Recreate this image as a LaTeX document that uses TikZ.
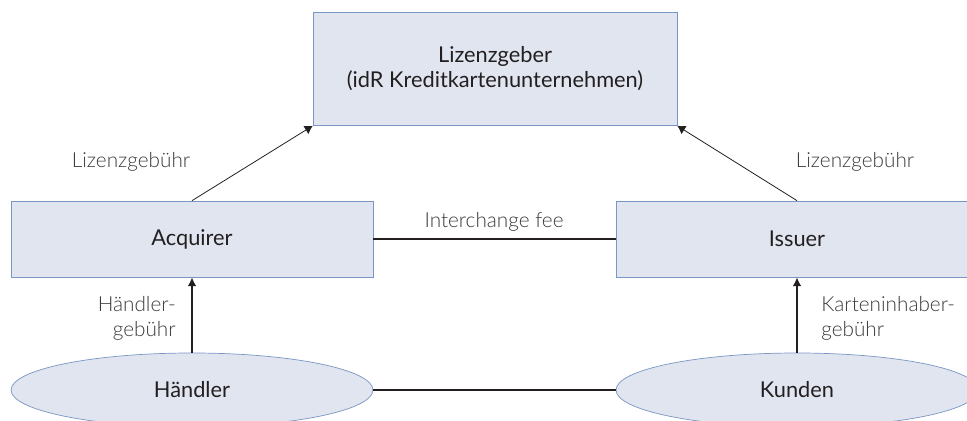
\documentclass[tikz,border=0pt]{standalone}
\usepackage{fontspec}
\setmainfont{Lato}
\newfontfamily\lightfont{Lato Light}
\usetikzlibrary{shapes.geometric, arrows.meta, shapes}
\definecolor{boxfill}{RGB}{224,229,240}
\definecolor{boxline}{RGB}{122,150,196}
\definecolor{ink}{RGB}{35,31,32}
\definecolor{labelgray}{RGB}{58,58,58}
\tikzstyle{party} = [rectangle, minimum width=7.24cm, minimum height=1.52cm, text centered, draw=boxline, fill=boxfill, text=ink, font=\fontsize{12.4}{14.2}\selectfont]
\tikzstyle{enduser} = [ellipse, minimum width=7.24cm, minimum height=1.48cm, text centered, draw=boxline, fill=boxfill, text=ink, font=\fontsize{12.4}{14.2}\selectfont]
\tikzstyle{fee} = [text=labelgray, inner sep=0pt, font=\lightfont\fontsize{11.8}{14.2}\selectfont]
\tikzstyle{arrow} = [line width=1pt, -{Latex[length=5pt, width=5pt]}, draw=ink]
\tikzstyle{thinarrow} = [line width=0.45pt, -{Latex[length=4.5pt, width=5.5pt]}, draw=ink]

\begin{document}
\begin{tikzpicture}[x=0.02cm, y=0.02cm, yscale=-1]
\useasboundingbox (0,0) rectangle (967,421);

\node at (495, 69) (giver) [party, minimum width=7.28cm, minimum height=2.26cm, align=center] {Lizenzgeber\\(idR Kreditkartenunternehmen)};
\node at (192, 239) (acq) [party] {Acquirer};
\node at (797, 239) (iss) [party] {Issuer};
\node at (192, 390) (haendler) [enduser] {Händler};
\node at (797, 390) (kunden) [enduser] {Kunden};

\draw[thinarrow] (acq.north) -- (giver.south west);
\draw[thinarrow] (iss.north) -- (giver.south east);
\draw[line width=1pt, ink] (acq) -- (iss);
\draw[line width=1pt, ink] (haendler) -- (kunden);
\draw[arrow] (haendler) -- (acq);
\draw[arrow] (kunden) -- (iss);

\node at (131, 162) (lgleft) [fee] {Lizenzgebühr};
\node at (855, 162) (lgright) [fee] {Lizenzgebühr};
\node at (494, 222) (interchange) [fee] {Interchange fee};
\node at (176, 318) (hgeb) [fee, anchor=east, align=right] {Händler-\\gebühr};
\node at (821, 318) (kgeb) [fee, anchor=west, align=left] {Karteninhaber-\\gebühr};

\end{tikzpicture}
\end{document}
